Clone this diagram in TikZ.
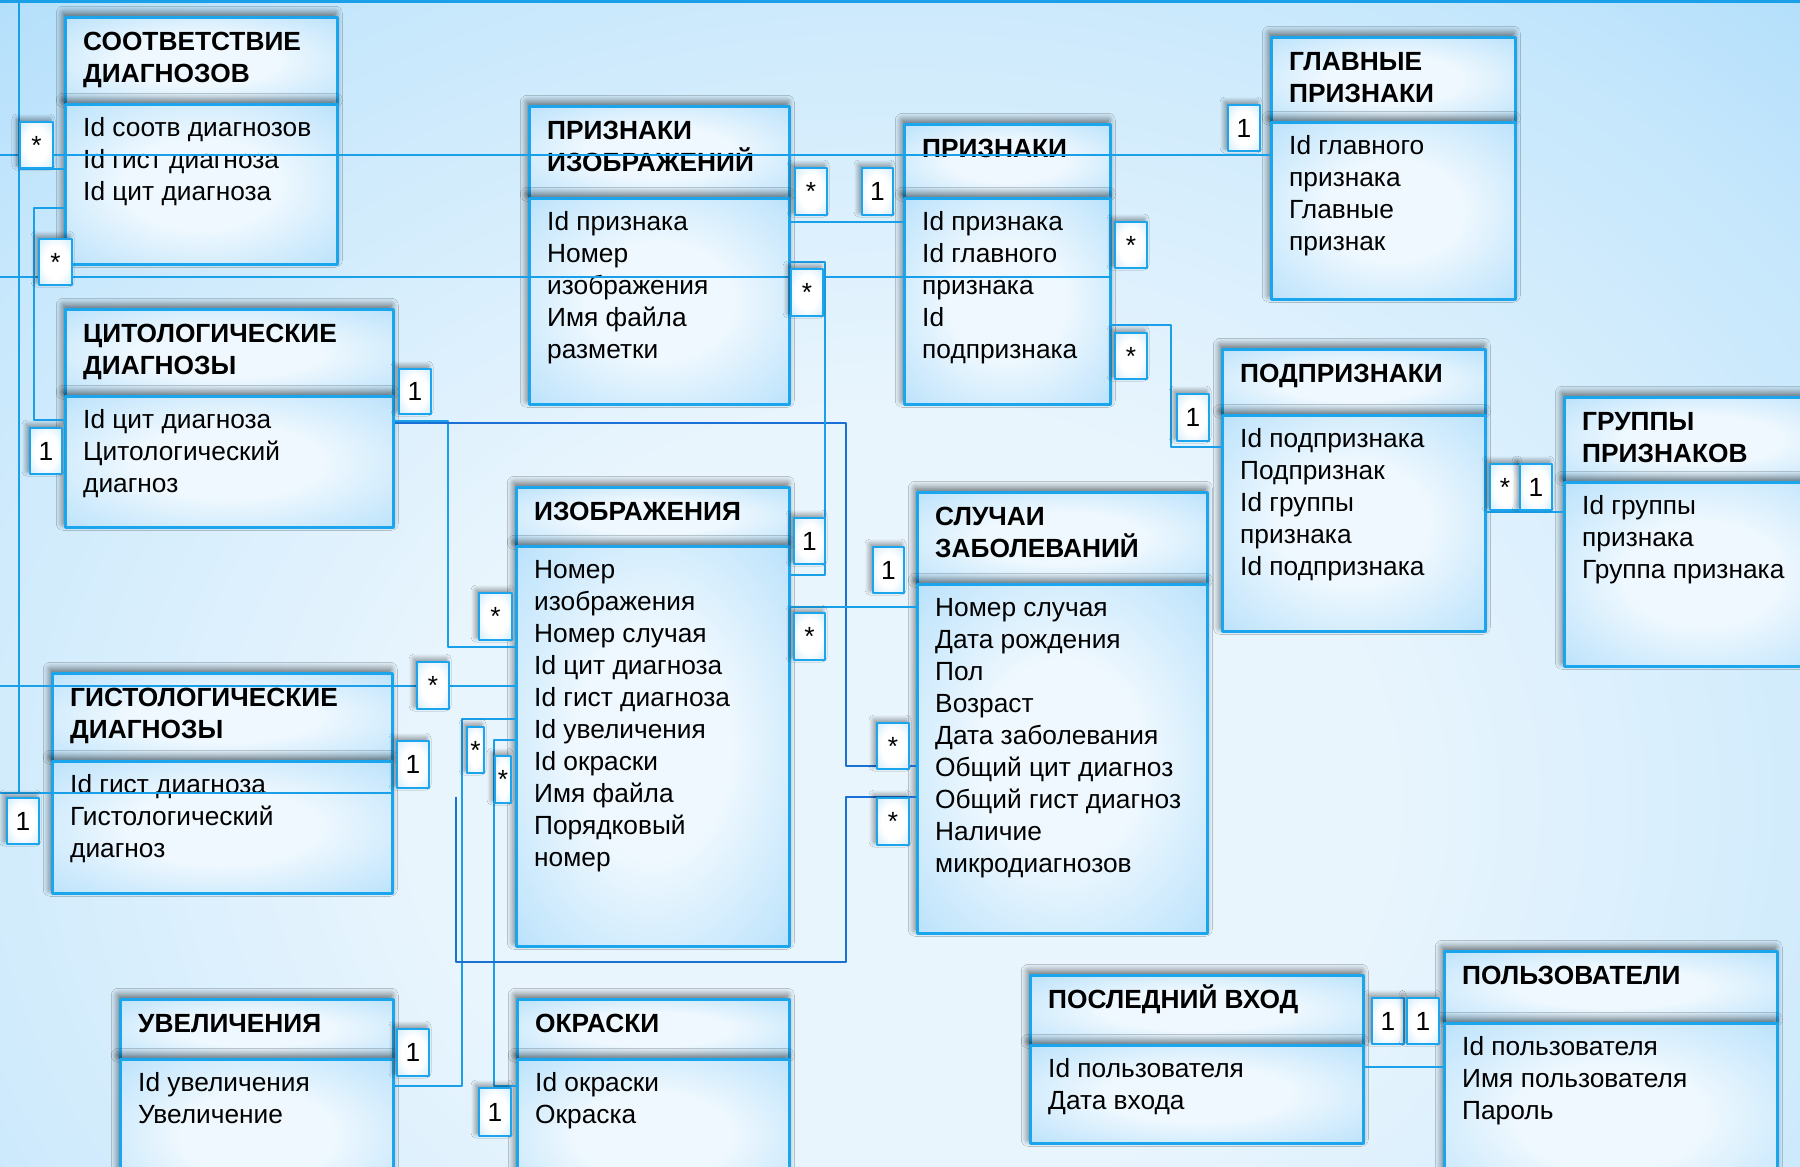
\documentclass[tikz,border=0pt]{standalone}
\usepackage{fontspec}
\setmainfont{Liberation Sans}
\usepackage{tikz}
\usetikzlibrary{calc}
\usetikzlibrary{shadows.blur}
\definecolor{bgin}{HTML}{E9F5FD}
\definecolor{bgmid}{HTML}{C6E7FC}
\definecolor{bgedge}{HTML}{9FD6FA}
\definecolor{bgout}{HTML}{8BCDFA}
\definecolor{boxin}{HTML}{EFF8FE}
\definecolor{boxmid}{HTML}{C4E6FC}
\definecolor{boxout}{HTML}{8FCFFA}
\definecolor{bordc}{HTML}{1AA5EC}
\definecolor{linec}{HTML}{1AA0E8}
\definecolor{lined}{HTML}{1B70D6}
\pgfdeclareradialshading{bgshade}{\pgfpoint{0bp}{0bp}}{color(0bp)=(bgin); color(12bp)=(bgin); color(28bp)=(bgmid); color(40bp)=(bgedge); color(50bp)=(bgout); color(75bp)=(bgout)}
\pgfdeclareradialshading{boxshade}{\pgfpoint{0bp}{0bp}}{color(0bp)=(boxin); color(14bp)=(boxin); color(32bp)=(boxmid); color(48bp)=(boxout); color(75bp)=(boxout)}
\pgfdeclareradialshading{cardshade}{\pgfpoint{0bp}{0bp}}{color(0bp)=(white); color(18bp)=(white); color(50bp)=(boxout!75!white); color(75bp)=(boxout!75!white)}
\newcommand{\tabfont}{\fontsize{26.3}{32}\selectfont}
\tikzset{
  tab/.style={anchor=north west, inner sep=0pt, draw=bordc, line width=2.5pt,
    shade, shading=boxshade,
    blur shadow={shadow xshift=-2pt, shadow yshift=4pt, shadow blur radius=7pt,
      shadow blur steps=12, shadow opacity=60}},
  lbl/.style={anchor=north west, inner sep=0pt, draw=bordc, line width=2pt,
    shade, shading=cardshade, font=\tabfont,
    blur shadow={shadow xshift=-3pt, shadow yshift=3pt, shadow blur radius=5pt,
      shadow blur steps=10, shadow opacity=45}},
  ttl/.style={anchor=base west, inner sep=0pt, font=\bfseries\tabfont},
  fld/.style={anchor=base west, inner sep=0pt, font=\tabfont},
  conn/.style={draw=linec, line width=2pt},
  conndark/.style={draw=lined, line width=2pt}
}
% table: name, left, top, right, divider, bottom, title lines, fields
\newcommand{\dbtab}[8]{%
  \node[tab, minimum width=#4-#2, minimum height=#5-#3] (#1h) at (#2,#3) {};
  \node[tab, minimum width=#4-#2, minimum height=#6-#5] (#1) at (#2,#5) {};
  \foreach \t [count=\i] in {#7}
    \node[ttl] at (#2+19,#3+2+32*\i) {\t};
  \foreach \t [count=\i] in {#8}
    \node[fld] at (#2+19,#5+1+32*\i) {\t};
}
% multiplicity card: [opts] name, x1, y1, x2, y2, text
\newcommand{\card}[7][]{%
  \node[lbl, #1, minimum width=#5-#3, minimum height=#6-#4] (#2) at (#3,#4) {#7};
}

\begin{document}
\begin{tikzpicture}[line join=round, x=1pt, y=-1pt]
\useasboundingbox (0,0) rectangle (1800,1167);
\clip (0,0) rectangle (1800,1167);
\shade[shading=bgshade] (-100,0) rectangle (1900,1600);

% tables
\dbtab{soot}{64}{16}{336}{103}{263}{СООТВЕТСТВИЕ,ДИАГНОЗОВ}{Id соотв диагнозов,Id гист диагноза,Id цит диагноза}
\dbtab{cit}{64}{308}{392}{395}{526}{ЦИТОЛОГИЧЕСКИЕ,ДИАГНОЗЫ}{Id цит диагноза,Цитологический,диагноз}
\dbtab{gist}{51}{672}{391}{760}{892}{ГИСТОЛОГИЧЕСКИЕ,ДИАГНОЗЫ}{Id гист диагноза,Гистологический,диагноз}
\dbtab{uvel}{119}{998}{392}{1058}{1210}{УВЕЛИЧЕНИЯ}{Id увеличения,Увеличение}
\dbtab{okr}{516}{998}{788}{1058}{1210}{ОКРАСКИ}{Id окраски,Окраска}
\dbtab{izo}{515}{486}{788}{545}{945}{ИЗОБРАЖЕНИЯ}{Номер,изображения,Номер случая,Id цит диагноза,Id гист диагноза,Id увеличения,Id окраски,Имя файла,Порядковый,номер}
\dbtab{przizo}{528}{105}{788}{197}{403}{ПРИЗНАКИ,ИЗОБРАЖЕНИЙ}{Id признака,Номер,изображения,Имя файла,разметки}
\dbtab{prz}{903}{123}{1109}{197}{403}{ПРИЗНАКИ}{Id признака,Id главного,признака,Id,подпризнака}
\dbtab{sl}{916}{491}{1206}{583}{932}{СЛУЧАИ,ЗАБОЛЕВАНИЙ}{Номер случая,Дата рождения,Пол,Возраст,Дата заболевания,Общий цит диагноз,Общий гист диагноз,Наличие,микродиагнозов}
\dbtab{glav}{1270}{36}{1514}{121}{298}{ГЛАВНЫЕ,ПРИЗНАКИ}{Id главного,признака,Главные,признак}
\dbtab{podpr}{1221}{348}{1484}{414}{630}{ПОДПРИЗНАКИ}{Id подпризнака,Подпризнак,Id группы,признака,Id подпризнака}
\dbtab{grp}{1563}{396}{1840}{481}{665}{ГРУППЫ,ПРИЗНАКОВ}{Id группы,признака,Группа признака}
\dbtab{posl}{1029}{974}{1362}{1044}{1142}{ПОСЛЕДНИЙ ВХОД}{Id пользователя,Дата входа}
\dbtab{polz}{1443}{950}{1776}{1022}{1210}{ПОЛЬЗОВАТЕЛИ}{Id пользователя,Имя пользователя,Пароль}

% links
\draw[conn, line width=3pt] (0,1.5) -- (1800,1.5);
\draw[conn] (soot.west |- 0,169) -- (19,169);
\draw[conn] (19,0) -- (19,793);
\draw[conn] (0,793) -- (gist.east |- 0,793);
\draw[conn] (0,155) -- (glav.west |- 0,155);
\draw[conn] (0,277) -- (prz.east |- 0,277);
\draw[conn] (soot.west |- 0,208) -| (34,420) -- (cit.west |- 0,420);
\draw[conn] (cit.east |- 0,421) -| (448,647) -- (izo.west |- 0,647);
\draw[conndark] (cit.east |- 0,423) -| (846,766) -- (sl.west |- 0,766);
\draw[conn] (0,686) -- (izo.west |- 0,686);
\draw[conn] (izo.west |- 0,719) -| (462,1086) -- (uvel.east |- 0,1086);
\draw[conn] (izo.west |- 0,740) -| (494,1086) -- (okr.west |- 0,1086);
\draw[conndark] (456,797) -- (456,962) -| (846,797) -- (sl.west |- 0,797);
\draw[conn] (izo.east |- 0,607) -- (sl.west |- 0,607);
\draw[conn] (przizo.east |- 0,262) -| (825,575) -- (izo.east |- 0,575);
\draw[conn] (przizo.east |- 0,222) -- (prz.west |- 0,222);
\draw[conn] (prz.east |- 0,325) -| (1171,447) -- (podpr.west |- 0,447);
\draw[conn] (podpr.east |- 0,512) -- (grp.west |- 0,512);
\draw[conn] (posl.east |- 0,1067) -- (polz.west |- 0,1067);

% multiplicities
\card{s1}{19}{121}{52}{167}{*}
\card{s2}{38}{238}{71}{284}{*}
\card{o1}{398}{368}{430}{413}{1}
\card{o2}{29}{427}{61}{473}{1}
\card{s3}{478}{592}{511}{639}{*}
\card{s4}{416}{661}{448}{708}{*}
\card{o3}{396}{740}{428}{787}{1}
\card{o4}{6}{797}{38}{843}{1}
\card{s5}{466}{726}{483}{772}{*}
\card{s6}{494}{755}{510}{802}{*}
\card{o5}{793}{517}{824}{563}{1}
\card{s7}{793}{612}{824}{659}{*}
\card{o6}{872}{546}{903}{592}{1}
\card{s8}{876}{722}{908}{768}{*}
\card{s9}{876}{797}{908}{844}{*}
\card{o7}{396}{1028}{428}{1075}{1}
\card{o8}{478}{1087}{510}{1135}{1}
\card{s10}{794}{167}{826}{214}{*}
\card{o9}{861}{167}{892}{214}{1}
\card{s11}{790}{268}{822}{315}{*}
\card{s12}{1114}{221}{1146}{267}{*}
\card{s13}{1114}{332}{1146}{378}{*}
\card{o10}{1176}{393}{1208}{440}{1}
\card{o11}{1227}{104}{1259}{150}{1}
\card{s14}{1489}{463}{1519}{509}{*}
\card{o12}{1519}{463}{1551}{509}{1}
\card{o13}{1371}{997}{1403}{1043}{1}
\card{o14}{1406}{997}{1438}{1043}{1}
\end{tikzpicture}
\end{document}
